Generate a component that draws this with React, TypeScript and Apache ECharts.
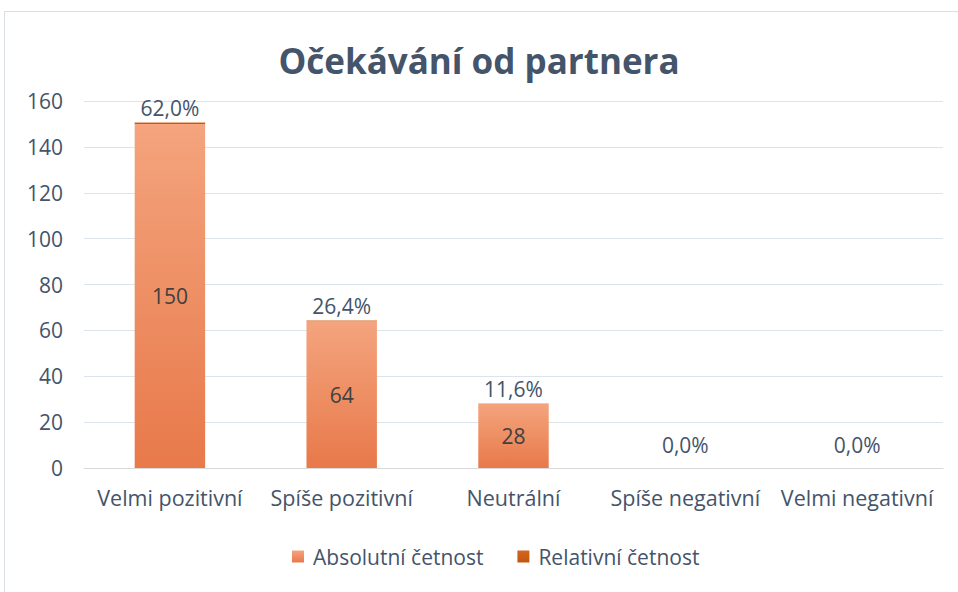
import React, { useEffect, useRef } from "react";
import * as echarts from "echarts";

const categories = ["Velmi pozitivní", "Spíše pozitivní", "Neutrální", "Spíše negativní", "Velmi negativní"];
const absolute = [150, 64, 28, 0, 0];
const relative = [0.62, 0.264, 0.116, 0, 0];
const seriesNames = ["Absolutní četnost", "Relativní četnost"];
const yTicks = { min: 0, max: 160, interval: 20 };

const FONT = "Open Sans";
const TXT = "#44546a";

export default function App() {
  const ref = useRef<HTMLDivElement>(null);
  useEffect(() => {
    if (!ref.current) return;
    const chart = echarts.init(ref.current, undefined, { renderer: "svg" });
    const absGrad = new echarts.graphic.LinearGradient(0, 0, 0, 1, [
      { offset: 0, color: "#f4a47e" },
      { offset: 1, color: "#e8794a" },
    ]);
    const relGrad = new echarts.graphic.LinearGradient(0, 0, 0, 1, [
      { offset: 0, color: "#d4661f" },
      { offset: 1, color: "#c0560f" },
    ]);
    chart.setOption({
      animation: false,
      backgroundColor: "#ffffff",
      textStyle: { fontFamily: FONT },
      title: {
        text: "Očekávání od partnera",
        left: "center",
        top: 38,
        textStyle: { fontFamily: FONT, fontSize: 35, fontWeight: "bold", color: TXT },
      },
      graphic: [
        { type: "line", shape: { x1: 4.5, y1: 11.5, x2: 958, y2: 11.5 }, style: { stroke: "#d9dee5", lineWidth: 1 } },
        { type: "line", shape: { x1: 4.5, y1: 11.5, x2: 4.5, y2: 592 }, style: { stroke: "#d9dee5", lineWidth: 1 } },
      ],
      legend: {
        bottom: 20,
        left: 287,
        padding: 5,
        itemWidth: 12,
        itemHeight: 12,
        itemGap: 34,
        icon: "rect",
        textStyle: { fontFamily: FONT, fontSize: 21, color: TXT, padding: [0, 0, 0, 4] },
        data: seriesNames,
      },
      grid: { left: 84, right: 15, top: 101, bottom: 124 },
      xAxis: {
        type: "category",
        data: categories,
        axisLine: { lineStyle: { color: "#d9d9d9", width: 1 } },
        axisTick: { show: false },
        axisLabel: { fontFamily: FONT, fontSize: 21.5, color: TXT, margin: 18, interval: 0 },
      },
      yAxis: {
        type: "value",
        min: yTicks.min,
        max: yTicks.max,
        interval: yTicks.interval,
        axisLine: { show: false },
        axisTick: { show: false },
        splitLine: { lineStyle: { color: "#dde3ea", width: 1 } },
        axisLabel: { fontFamily: FONT, fontSize: 21, color: TXT, margin: 21 },
      },
      series: [
        {
          name: seriesNames[0],
          type: "bar",
          stack: "s",
          barWidth: "41%",
          data: absolute,
          itemStyle: { color: absGrad },
          label: {
            show: true,
            position: "inside",
            fontFamily: FONT,
            fontSize: 21,
            color: "#404040",
            formatter: (p: any) => (p.value ? String(p.value) : ""),
          },
        },
        {
          name: seriesNames[1],
          type: "bar",
          stack: "s",
          barWidth: "41%",
          data: relative.map((v) => ({
            value: v,
            label: { distance: v === 0 ? 13 : 4 },
          })),
          itemStyle: { color: relGrad },
          label: {
            show: true,
            position: "top",
            fontFamily: FONT,
            fontSize: 21,
            color: TXT,
            formatter: (p: any) => (p.value * 100).toFixed(1).replace(".", ",") + "%",
          },
        },
      ],
    });
    return () => chart.dispose();
  }, []);
  return <div ref={ref} style={{ position: "fixed", left: 0, top: 0, width: 958, height: 592 }} />;
}
